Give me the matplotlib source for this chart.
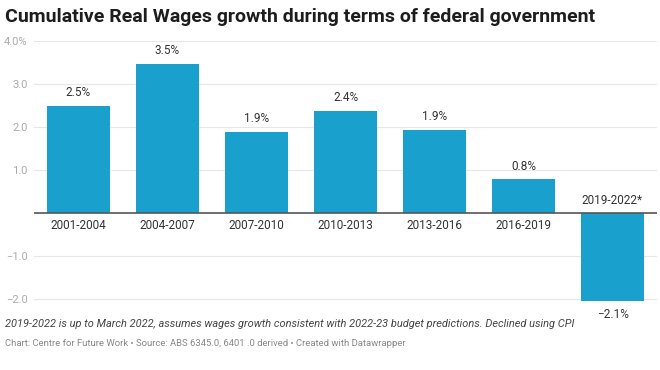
import matplotlib.pyplot as plt

periods = ['2001-2004', '2004-2007', '2007-2010', '2010-2013',
           '2013-2016', '2016-2019', '2019-2022*']
growth = [2.48, 3.47, 1.89, 2.38, 1.93, 0.78, -2.05]
value_labels = ['2.5%', '3.5%', '1.9%', '2.4%', '1.9%', '0.8%', '\u22122.1%']
yticks = [-2.0, -1.0, 1.0, 2.0, 3.0, 4.0]
ytick_labels = ['\u22122.0', '\u22121.0', '1.0', '2.0', '3.0', '4.0%']

plt.rcParams['font.family'] = ['Roboto', 'DejaVu Sans']

fig = plt.figure(figsize=(6.6, 3.7), dpi=100)
ax = fig.add_axes([34 / 660, (370 - 307.6) / 370, 623 / 660, 266.6 / 370])

x = list(range(len(periods)))
ax.bar(x, growth, width=0.7, color='#1aa0cc', zorder=2)
ax.set_xlim(-0.5, len(periods) - 0.5)
ax.set_ylim(-2.2, 4.0)

for s in ax.spines.values():
    s.set_visible(False)
ax.set_xticks([])
ax.set_yticks(yticks)
ax.set_yticklabels(ytick_labels)
ax.tick_params(axis='y', length=0, labelsize=8, labelcolor='#aaaaaa', pad=4.5)
ax.grid(axis='y', color='#e6e6e6', linewidth=0.8, zorder=0)
ax.axhline(0, color='#555555', linewidth=1.2, zorder=3)

for xi, v, vl, p in zip(x, growth, value_labels, periods):
    if v >= 0:
        ax.annotate(vl, (xi, v), xytext=(0, 5), textcoords='offset points',
                    ha='center', va='bottom', fontsize=8.5, color='#333333')
        ax.annotate(p, (xi, 0), xytext=(0, -4), textcoords='offset points',
                    ha='center', va='top', fontsize=8.5, color='#333333')
    else:
        ax.annotate(vl, (xi, v), xytext=(0, -5), textcoords='offset points',
                    ha='center', va='top', fontsize=8.5, color='#333333')
        ax.annotate(p, (xi, 0), xytext=(0, 4), textcoords='offset points',
                    ha='center', va='bottom', fontsize=8.5, color='#333333')

fig.text(5 / 660, 1 - 17 / 370, 'Cumulative Real Wages growth during terms of federal government',
         fontsize=14, fontweight='bold', color='#1d1d1d', va='center', ha='left')
fig.text(5 / 660, 1 - 324 / 370,
         '2019-2022 is up to March 2022, assumes wages growth consistent with 2022-23 budget predictions. Declined using CPI',
         fontsize=7.9, style='italic', color='#444444', va='center', ha='left')
fig.text(5 / 660, 1 - 344 / 370,
         'Chart: Centre for Future Work \u2022 Source: ABS 6345.0, 6401 .0 derived \u2022 Created with Datawrapper',
         fontsize=6.8, color='#888888', va='center', ha='left')

fig.savefig('out.png', dpi=100)
